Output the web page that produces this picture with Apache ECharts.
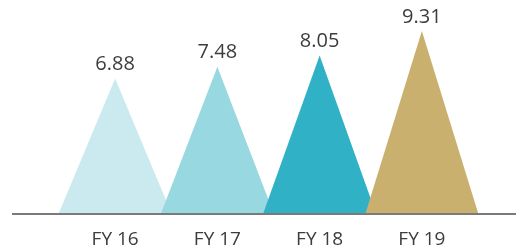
<!DOCTYPE html>
<html>
<head>
<meta charset="utf-8">
<script src="https://cdn.jsdelivr.net/npm/echarts@6/dist/echarts.min.js"></script>
<style>
  html, body { margin: 0; padding: 0; background: #fff; }
  #chart { width: 516px; height: 249px; }
</style>
</head>
<body>
<div id="chart"></div>
<script>
// data
const categories = ["FY 16", "FY 17", "FY 18", "FY 19"];
const values = [6.88, 7.48, 8.05, 9.31];
const colors = ["#cbeaf0", "#98d8e1", "#30b1c5", "#cab06f"];

const font = "'Open Sans', sans-serif";
const chart = echarts.init(document.getElementById("chart"), null, { renderer: "canvas" });

chart.setOption({
  backgroundColor: "#fff",
  animation: false,
  grid: { left: 64, right: 43, top: 17.4, bottom: 35 },
  xAxis: {
    type: "category",
    data: categories,
    axisLine: { show: false },
    axisTick: { show: false },
    axisLabel: { margin: 17, fontSize: 19, color: "#3c3c3c", fontFamily: font },
  },
  yAxis: { type: "value", min: 0, max: 10, show: false },
  graphic: [
    {
      type: "rect",
      left: 12,
      top: 213,
      shape: { width: 504, height: 2 },
      style: { fill: "#7a7a7a" },
      z: 10,
    },
  ],
  series: [
    {
      type: "custom",
      data: values.map((v, i) => [i, v]),
      renderItem: function (params, api) {
        const i = api.value(0);
        const v = api.value(1);
        const top = api.coord([i, v]);
        const base = api.coord([i, 0]);
        const half = api.size([1, 0])[0] * 0.55;
        return {
          type: "group",
          children: [
            {
              type: "polygon",
              shape: { points: [[base[0] - half, base[1]], top, [base[0] + half, base[1]]] },
              style: { fill: colors[params.dataIndex], blend: "multiply" },
            },
            {
              type: "text",
              style: {
                text: v.toFixed(2),
                x: top[0],
                y: top[1] - 4,
                align: "center",
                verticalAlign: "bottom",
                fontSize: 20,
                fontFamily: font,
                fill: "#3c3c3c",
              },
            },
          ],
        };
      },
    },
  ],
});
</script>
</body>
</html>
